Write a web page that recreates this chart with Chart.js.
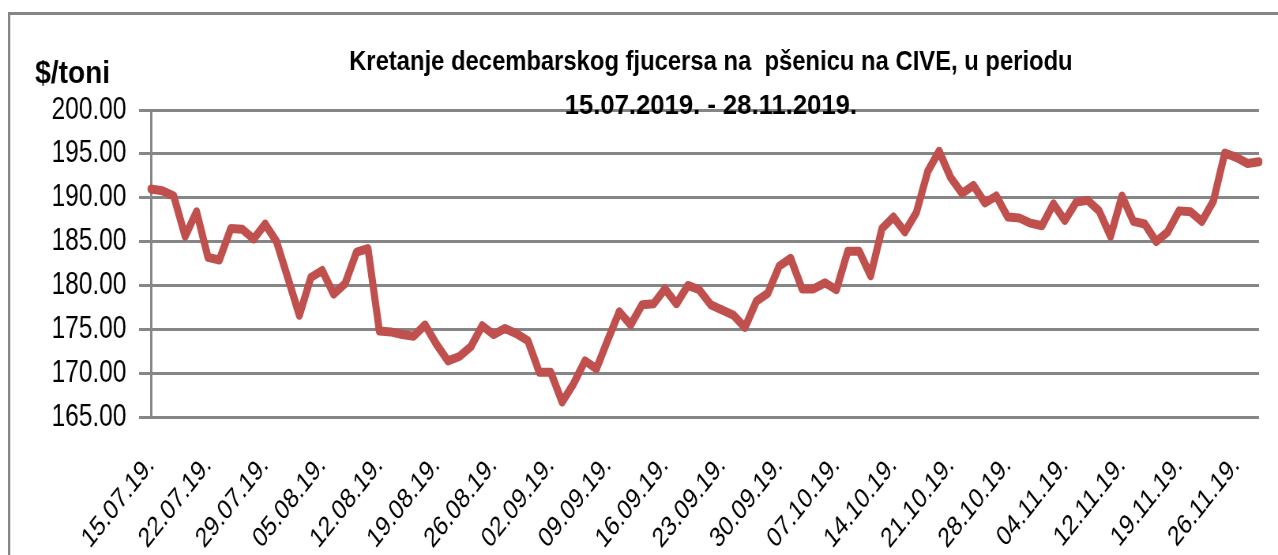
<!DOCTYPE html>
<html>
<head>
<meta charset="utf-8">
<script src="https://cdn.jsdelivr.net/npm/chart.js@4.4.1/dist/chart.umd.min.js"></script>
<style>
    html, body { margin: 0; padding: 0; background: #fff; overflow: hidden; }
    /* the source picture is horizontally squeezed, so draw wide and squeeze */
    #wrap { width: 1618px; height: 555px; transform: scaleX(0.78986); transform-origin: 0 0; }
</style>
</head>
<body>
<div id="wrap"><canvas id="chart"></canvas></div>
<script>
const titleLines = ['Kretanje decembarskog fjucersa na  pšenicu na CIVE, u periodu', '15.07.2019. - 28.11.2019.']
const unitLabel = '$/toni'

const dates = [
    '15.07.19.', '16.07.19.', '17.07.19.', '18.07.19.', '19.07.19.',
    '22.07.19.', '23.07.19.', '24.07.19.', '25.07.19.', '26.07.19.',
    '29.07.19.', '30.07.19.', '31.07.19.', '01.08.19.', '02.08.19.',
    '05.08.19.', '06.08.19.', '07.08.19.', '08.08.19.', '09.08.19.',
    '12.08.19.', '13.08.19.', '14.08.19.', '15.08.19.', '16.08.19.',
    '19.08.19.', '20.08.19.', '21.08.19.', '22.08.19.', '23.08.19.',
    '26.08.19.', '27.08.19.', '28.08.19.', '29.08.19.', '30.08.19.',
    '02.09.19.', '03.09.19.', '04.09.19.', '05.09.19.', '06.09.19.',
    '09.09.19.', '10.09.19.', '11.09.19.', '12.09.19.', '13.09.19.',
    '16.09.19.', '17.09.19.', '18.09.19.', '19.09.19.', '20.09.19.',
    '23.09.19.', '24.09.19.', '25.09.19.', '26.09.19.', '27.09.19.',
    '30.09.19.', '01.10.19.', '02.10.19.', '03.10.19.', '04.10.19.',
    '07.10.19.', '08.10.19.', '09.10.19.', '10.10.19.', '11.10.19.',
    '14.10.19.', '15.10.19.', '16.10.19.', '17.10.19.', '18.10.19.',
    '21.10.19.', '22.10.19.', '23.10.19.', '24.10.19.', '25.10.19.',
    '28.10.19.', '29.10.19.', '30.10.19.', '31.10.19.', '01.11.19.',
    '04.11.19.', '05.11.19.', '06.11.19.', '07.11.19.', '08.11.19.',
    '12.11.19.', '13.11.19.', '14.11.19.', '15.11.19.',
    '18.11.19.', '19.11.19.', '20.11.19.', '21.11.19.', '22.11.19.',
    '25.11.19.', '26.11.19.', '27.11.19.', '28.11.19.'
]

const prices = [
    191.0, 190.8, 190.2, 185.6, 188.4,
    183.2, 182.9, 186.5, 186.4, 185.3,
    187.0, 185.0, 180.8, 176.6, 180.9,
    181.7, 179.0, 180.2, 183.8, 184.2,
    174.8, 174.7, 174.4, 174.2, 175.5,
    173.3, 171.4, 171.9, 173.0, 175.4,
    174.4, 175.1, 174.5, 173.7, 170.1,
    170.1, 166.7, 168.8, 171.4, 170.5,
    173.8, 177.0, 175.5, 177.8, 177.9,
    179.6, 177.9, 180.0, 179.5, 177.8,
    177.2, 176.6, 175.2, 178.2, 179.1,
    182.2, 183.1, 179.6, 179.6, 180.3,
    179.5, 183.9, 183.9, 181.1, 186.5,
    187.8, 186.1, 188.3, 193.0, 195.3,
    192.3, 190.5, 191.4, 189.4, 190.2,
    187.8, 187.7, 187.1, 186.8, 189.3,
    187.4, 189.5, 189.7, 188.5, 185.6,
    190.2, 187.3, 187.0, 185.0,
    186.1, 188.5, 188.4, 187.3, 189.6,
    195.1, 194.6, 193.9, 194.1
]

const yMin = 165
const yMax = 200
const yStep = 5
const labelEvery = 5

const gray = '#868686'
const lineRed = '#C0504D'
const fontFamily = "'Liberation Sans', Arial, sans-serif"

// draws text centred at (cx, cy) squeezed/stretched to a given width
function drawFitted(ctx, text, cx, cy, width, font) {
    ctx.save()
    ctx.font = font
    const w = ctx.measureText(text).width
    ctx.translate(cx, cy)
    ctx.scale(width / w, 1)
    ctx.textAlign = 'center'
    ctx.textBaseline = 'middle'
    ctx.fillStyle = '#000'
    ctx.fillText(text, 0, 0)
    ctx.restore()
}

const framePlugin = {
    id: 'frame',
    beforeDraw(chart) {
        const ctx = chart.ctx
        ctx.save()
        ctx.strokeStyle = gray
        ctx.lineWidth = 3
        ctx.strokeRect(11.5, 13.5, chart.width + 20, chart.height + 20)
        ctx.restore()
    },
    afterDraw(chart) {
        const ctx = chart.ctx
        drawFitted(ctx, titleLines[0], 900, 62, 916, 'bold 28px ' + fontFamily)
        drawFitted(ctx, titleLines[1], 900, 106, 370, 'bold 28px ' + fontFamily)
        drawFitted(ctx, unitLabel, 92, 74, 95, 'bold 31px ' + fontFamily)
    }
}

const ctx = document.getElementById('chart').getContext('2d')
new Chart(ctx, {
    type: 'line',
    data: {
        labels: dates,
        datasets: [{
            data: prices,
            borderColor: lineRed,
            borderWidth: 9,
            pointRadius: 0,
            tension: 0,
            fill: false,
            borderJoinStyle: 'round',
            borderCapStyle: 'round'
        }]
    },
    options: {
        responsive: true,
        maintainAspectRatio: false,
        animation: false,
        layout: {
            padding: { top: 110, right: 24, left: 0, bottom: 0 }
        },
        plugins: {
            legend: { display: false },
            tooltip: { enabled: false },
            title: { display: false }
        },
        scales: {
            x: {
                offset: false,
                grid: { display: false, drawTicks: false },
                border: { display: false },
                ticks: {
                    autoSkip: false,
                    maxRotation: 45,
                    minRotation: 45,
                    padding: 32,
                    color: '#000',
                    font: { family: fontFamily, size: 28 },
                    callback: (value, index) => index % labelEvery === 0 ? dates[index] : ''
                },
                afterFit(scale) {
                    scale.height = 138
                    scale.paddingLeft = 0
                    scale.paddingRight = 0
                }
            },
            y: {
                min: yMin,
                max: yMax,
                ticks: {
                    stepSize: yStep,
                    padding: 16,
                    color: '#000',
                    font: { family: fontFamily, size: 31 },
                    callback: v => v.toFixed(2)
                },
                grid: { color: gray, lineWidth: 3, tickLength: 15 },
                border: { display: true, color: gray, width: 3 },
                afterFit(scale) { scale.width = 191 }
            }
        }
    },
    plugins: [framePlugin]
})
</script>
</body>
</html>
